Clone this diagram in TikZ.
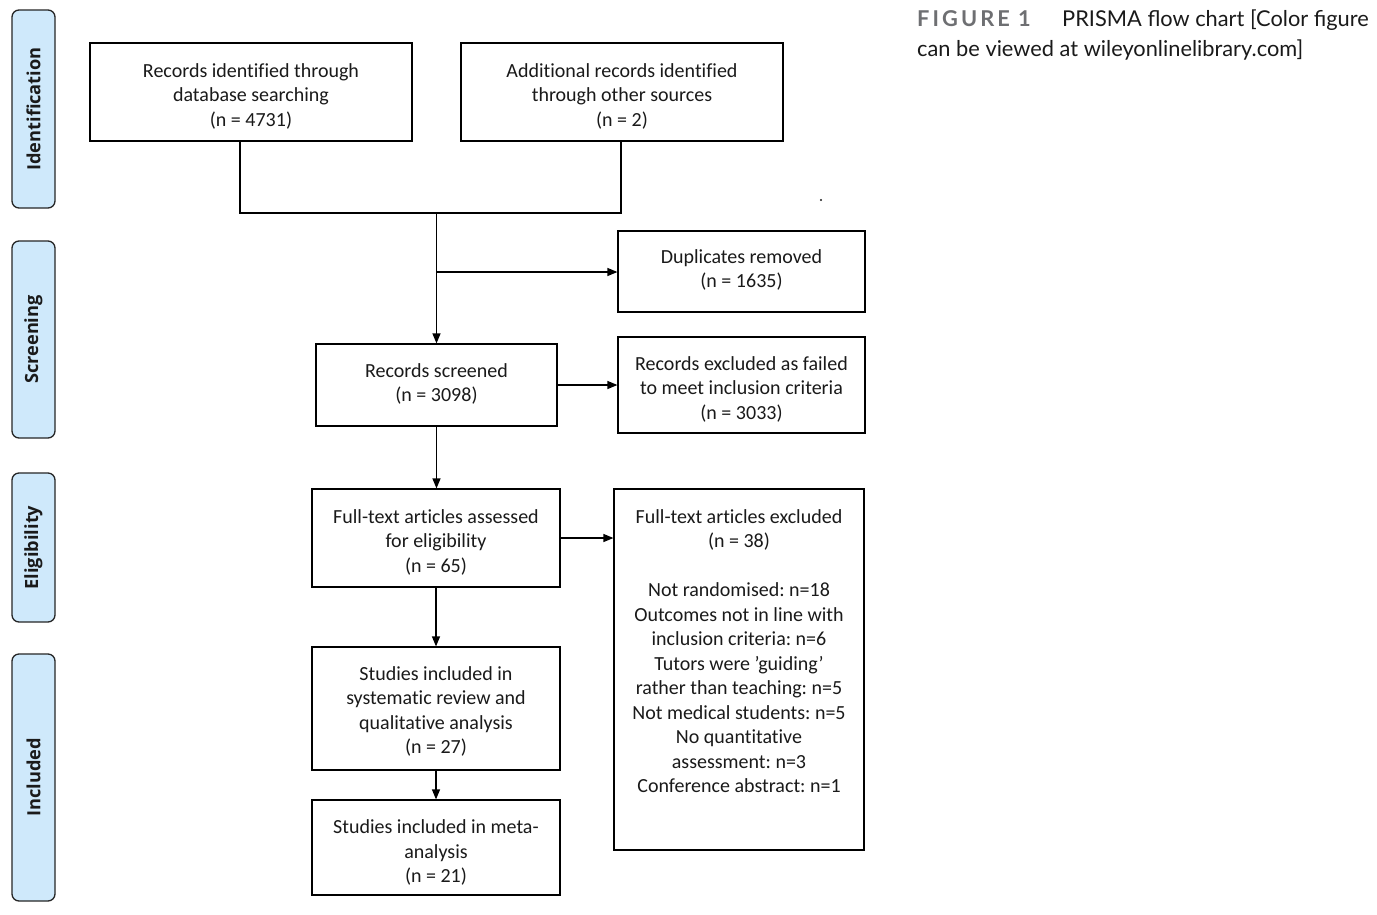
\documentclass[tikz,border=0pt]{standalone}
\usepackage{fontspec}
\setmainfont[Ligatures={TeX,NoCommon}]{Carlito}
\newfontfamily\capfont{Lato}
\newfontfamily\capsp[LetterSpace=14]{Lato}
\newfontfamily\sidefont{Open Sans}
\usetikzlibrary{arrows.meta}
\definecolor{sideblue}{HTML}{CFE9FB}
\definecolor{capgray}{HTML}{6E6F72}
\definecolor{ink}{HTML}{1A1A1A}
\frenchspacing
\begin{document}
\begin{tikzpicture}[x=1pt,y=-1pt,
  box/.style={draw=black, line width=1.2pt, fill=white, inner sep=0pt},
  boxtext/.style={align=center, inner sep=0pt, font=\fontsize{20}{24.5}\selectfont, text=ink},
  side/.style={draw=black!85, line width=1.3pt, fill=sideblue, rounded corners=7pt, inner sep=0pt,
    minimum width=43pt},
  sidetext/.style={rotate=90, font=\sidefont\bfseries\fontsize{18.2}{20}\selectfont, text=ink},
  arr/.style={-{Triangle[length=10pt,width=8pt]}, line width=1.2pt},
  ln/.style={line width=1.2pt}]
\useasboundingbox (0,0) rectangle (1377,914);
\fill[white] (0,0) rectangle (1377,914);
% side labels
\node[side, minimum height=198pt] (sid) at (33.5,109) {};
\node[sidetext] at (sid.center) {Identification};
\node[side, minimum height=197pt] (sscr) at (33.5,339.5) {};
\node[sidetext] at (sscr.center) {Screening};
\node[side, minimum height=149pt] (selg) at (33.5,547.5) {};
\node[sidetext] at (selg.center) {Eligibility};
\node[side, minimum height=247pt] (sinc) at (33.5,777.5) {};
\node[sidetext] at (sinc.center) {Included};
% boxes
\node[box, minimum width=322pt, minimum height=98pt] (A) at (251,92) {};
\node[boxtext] (At) at ([yshift=-4pt]A.center) {Records identified through\\database searching\\(n = 4731)};
\node[box, minimum width=322pt, minimum height=98pt] (B) at (622,92) {};
\node[boxtext] (Bt) at ([yshift=-4pt]B.center) {Additional records identified\\through other sources\\(n = 2)};
\node[box, minimum width=247pt, minimum height=81pt] (dup) at (741.5,271.5) {};
\node[boxtext] (dupt) at ([yshift=1.5pt]dup.center) {Duplicates removed\\(n = 1635)};
\node[box, minimum width=241pt, minimum height=82pt] (scr) at (436.5,385) {};
\node[boxtext] (scrt) at ([yshift=1pt]scr.center) {Records screened\\(n = 3098)};
\node[box, minimum width=247pt, minimum height=96pt] (exc) at (741.5,385) {};
\node[boxtext] (exct) at ([yshift=-4pt]exc.center) {Records excluded as failed\\to meet inclusion criteria\\(n = 3033)};
\node[box, minimum width=248pt, minimum height=98pt] (fta) at (436,538) {};
\node[boxtext] (ftat) at ([yshift=-4pt]fta.center) {Full-text articles assessed\\for eligibility\\(n = 65)};
\node[box, minimum width=250pt, minimum height=361pt] (fte) at (739,669.5) {};
\node[boxtext, anchor=north] (ftet) at ([yshift=-21pt]fte.north)
  {Full-text articles excluded\\(n = 38)\\[24.5pt]Not randomised: n=18\\Outcomes not in line with\\inclusion criteria: n=6\\Tutors were \char39 guiding\char39\\rather than teaching: n=5\\Not medical students: n=5\\No quantitative\\assessment: n=3\\Conference abstract: n=1};
\node[box, minimum width=248pt, minimum height=123pt] (inc) at (436,708.5) {};
\node[boxtext] (inct) at ([yshift=-3pt]inc.center) {Studies included in\\systematic review and\\qualitative analysis\\(n = 27)};
\node[box, minimum width=248pt, minimum height=95pt] (meta) at (436,847.5) {};
\node[boxtext] (metat) at ([yshift=-5pt]meta.center) {Studies included in meta-\\analysis\\(n = 21)};
% connectors
\coordinate (j1) at (240,213);
\coordinate (j2) at (621,213);
\coordinate (j) at (436.5,213);
\coordinate (jd) at (436.5,272);
\draw[ln] (A.south -| j1) -- (j1) -- (j2) -- (B.south -| j2);
\draw[arr] (j) -- (scr.north);
\draw[arr] (jd) -- (dup.west |- jd);
\draw[arr] (scr.east) -- (exc.west |- scr.east);
\draw[arr] (scr.south) -- (fta.north -| scr.south);
\draw[arr] (fta.east) -- (fte.west |- fta.east);
\draw[arr] (fta.south) -- (inc.north);
\draw[arr] (inc.south) -- (meta.north);
\fill[ink] (821,200) circle (1.2pt);
% caption
\node[anchor=base west, inner sep=0pt, font=\capsp\bfseries\fontsize{21.8}{30}\selectfont, text=capgray] (fig) at (917,26) {FIGURE 1};
\node[anchor=base west, inner sep=0pt, font=\capfont\fontsize{21.8}{30}\selectfont, text=ink] (cap1) at (1062,26) {PRISMA flow chart [Color figure};
\node[anchor=base west, inner sep=0pt, font=\capfont\fontsize{21.8}{30}\selectfont, text=ink] (cap2) at (917,56) {can be viewed at wileyonlinelibrary.com]};
\end{tikzpicture}
\end{document}
